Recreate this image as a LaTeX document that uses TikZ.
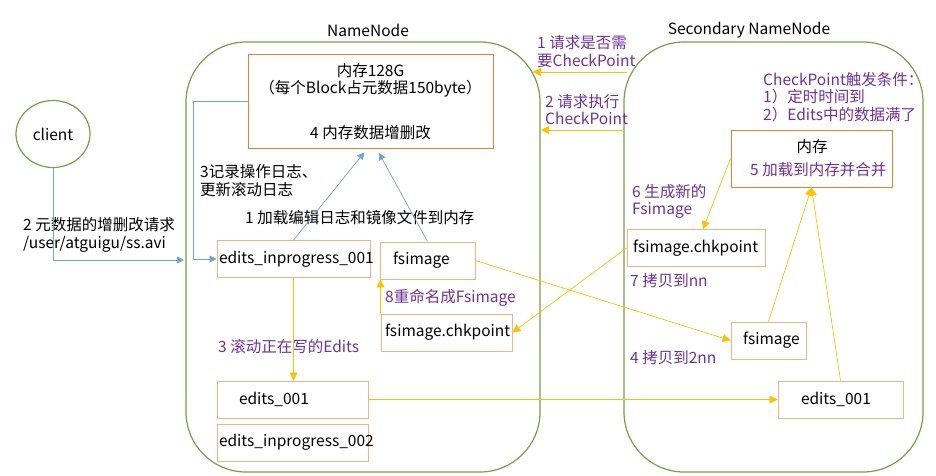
\documentclass[tikz,border=0pt]{standalone}
\usepackage{fontspec}
\setmainfont{Noto Sans CJK SC}
\usepackage{tikz}
\usetikzlibrary{arrows.meta,shapes.geometric}
\definecolor{nngreen}{RGB}{118,160,72}
\definecolor{memorange}{RGB}{237,125,49}
\definecolor{fileorange}{RGB}{244,177,131}
\definecolor{ayellow}{RGB}{255,192,0}
\definecolor{lblue}{RGB}{110,165,215}
\definecolor{npurple}{RGB}{112,48,160}

\begin{document}
\begin{tikzpicture}
[x=1pt,y=-1pt,
 every node/.style={font=\fontsize{15.5pt}{17.5pt}\selectfont},
 cont/.style={draw=nngreen,line width=1.2pt,rounded corners=60pt,minimum height=430pt},
 mem/.style={draw=memorange,line width=1pt},
 file/.style={draw=fileorange,line width=0.9pt,minimum height=37pt,align=left,inner ysep=0pt},
 note/.style={text=npurple,align=left,anchor=west,inner sep=0pt},
 txt/.style={align=left,anchor=west,inner sep=0pt},
 barr/.style={draw=lblue,line width=0.7pt,-{Triangle[width=7pt,length=7pt]}},
 yarr/.style={draw=ayellow,line width=0.7pt,-{Triangle[width=8pt,length=8pt]}}]
\useasboundingbox (0,0) rectangle (936,475);

% the two name nodes
\node[cont,minimum width=354pt] (nn) at (363,257) {};
\node[cont,minimum width=299pt] (snn) at (773.5,257) {};
\node (nnlab) at (368,30) {NameNode};
\node (snnlab) at (749,30) {Secondary NameNode};

\node[draw=nngreen,line width=1.2pt,ellipse,minimum width=74pt,minimum height=67pt] (client) at (53,134) {client};

% NameNode side
\node[mem,minimum width=245pt,minimum height=94pt] (mem) at (370.5,101) {};
\node (memt1) at (370.5,71) {内存128G};
\node (memt2) at (370.5,89) {（每个Block占元数据150byte）};
\node (memt3) at (370.5,133) {4 内存数据增删改};

\node[file,text width=149pt,inner xsep=2pt] (ein1) at (293.5,259) {edits\_inprogress\_001};
\node[file,text width=69pt,inner xsep=13pt] (nfs) at (427.5,260.5) {fsimage};
\node[file,text width=123pt,inner xsep=4pt] (nchk) at (446.5,332.5) {fsimage.chkpoint};
\node[file,text width=107pt,inner xsep=22pt] (ned) at (292.5,399.5) {edits\_001};
\node[file,text width=147pt,inner xsep=2pt] (ein2) at (292.5,442.5) {edits\_inprogress\_002};

% Secondary NameNode side
\node[mem,minimum width=161pt,minimum height=57pt] (smem) at (811.5,158.5) {};
\node (smemt) at (812,147) {内存};
\node[note] (step5) at (750,170) {5 加载到内存并合并};

\node[file,text width=126pt,inner xsep=6pt] (schk) at (696,248) {fsimage.chkpoint};
\node[file,text width=51pt,inner xsep=12pt] (sfs) at (768.5,340.5) {fsimage};
\node[file,text width=79pt,inner xsep=23pt] (sed) at (840.5,399.5) {edits\_001};

% texts
\node[txt] (req) at (23,235) {2 元数据的增删改请求\\/user/atguigu/ss.avi};
\node[txt] (log) at (200,180.5) {3记录操作日志、\\更新滚动日志};
\node[txt] (load) at (245,218) {1 加载编辑日志和镜像文件到内存};
\node[note] (step8) at (385,298) {8重命名成Fsimage};
\node[note] (step3) at (218,347) {3 滚动正在写的Edits};
\node[note] (step1) at (537,51.5) {1 请求是否需\\要CheckPoint};
\node[note] (step2) at (545,109.5) {2 请求执行\\CheckPoint};
\node[note] (trig) at (763,97) {CheckPoint触发条件：\\1）定时时间到\\2）Edits中的数据满了};
\node[note] (step6) at (632,201.5) {6 生成新的\\Fsimage};
\node[note] (step7) at (630,281) {7 拷贝到nn};
\node[note] (step4) at (630,358) {4 拷贝到2nn};

\coordinate (nnin) at (184,260);
\coordinate (q1s) at (627,72);
\coordinate (q1e) at (533,72);
\coordinate (q2s) at (624,130);
\coordinate (q2e) at (541,130);

% blue links
\draw[barr] (client.south) |- (nnin);
\draw[barr] (mem.west) -- ++(-54,0) |- (ein1.west);
\draw[barr,shorten >=5pt] (ein1.north) -- ([xshift=-3pt]mem.south);
\draw[barr,shorten >=5pt] (nfs.north) -- ([xshift=6pt]mem.south);

% yellow links
\draw[yarr] (ein1.south) -- (ein1.south |- ned.north);
\draw[yarr] (nchk.north west) -- (nchk.north west |- nfs.south);
\draw[yarr] (schk.west) -- (nchk.east);
\draw[yarr] (nfs.east) -- (sfs.west);
\draw[yarr] (ned.east) -- (sed.west);
\draw[yarr] (sfs.north) -- (smem.south);
\draw[yarr] (sed.north) -- (smem.south);
\draw[yarr] (smem.west) -- ([xshift=7pt]schk.north);
\draw[yarr] (q1s) -- (q1e);
\draw[yarr] (q2s) -- (q2e);
\end{tikzpicture}
\end{document}
